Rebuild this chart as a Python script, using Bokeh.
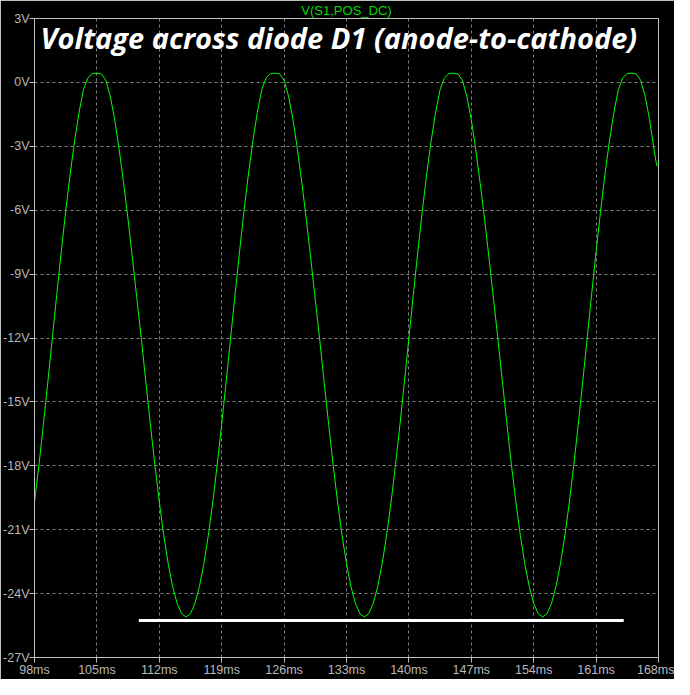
from bokeh.plotting import figure
from bokeh.models import FixedTicker, PrintfTickFormatter, Label, Range1d
from bokeh.embed import file_html
from bokeh.resources import INLINE

# ---- data ----
time_ms = [
    98, 98.5, 99, 99.5, 100, 100.5, 101, 101.5, 102, 102.5,
    103, 103.5, 104, 104.5, 105, 105.5, 106, 106.5, 107, 107.5,
    108, 108.5, 109, 109.5, 110, 110.5, 111, 111.5, 112, 112.5,
    113, 113.5, 114, 114.5, 115, 115.5, 116, 116.5, 117, 117.5,
    118, 118.5, 119, 119.5, 120, 120.5, 121, 121.5, 122, 122.5,
    123, 123.5, 124, 124.5, 125, 125.5, 126, 126.5, 127, 127.5,
    128, 128.5, 129, 129.5, 130, 130.5, 131, 131.5, 132, 132.5,
    133, 133.5, 134, 134.5, 135, 135.5, 136, 136.5, 137, 137.5,
    138, 138.5, 139, 139.5, 140, 140.5, 141, 141.5, 142, 142.5,
    143, 143.5, 144, 144.5, 145, 145.5, 146, 146.5, 147, 147.5,
    148, 148.5, 149, 149.5, 150, 150.5, 151, 151.5, 152, 152.5,
    153, 153.5, 154, 154.5, 155, 155.5, 156, 156.5, 157, 157.5,
    158, 158.5, 159, 159.5, 160, 160.5, 161, 161.5, 162, 162.5,
    163, 163.5, 164, 164.5, 165, 165.5, 166, 166.5, 167, 167.5,
    167.8, 168,
]
volts = [
    -19.70, -17.95, -16.05, -14.05, -12.00, -9.95, -7.95, -6.05, -4.30, -2.74,
    -1.40, -0.33, 0.22, 0.42, 0.43, 0.40, 0.10, -0.65, -1.75, -3.15,
    -4.75, -6.45, -8.30, -10.20, -12.10, -14.10, -16.05, -17.95, -19.70, -21.26,
    -22.60, -23.67, -24.46, -24.94, -25.10, -24.94, -24.46, -23.67, -22.60, -21.26,
    -19.70, -17.95, -16.05, -14.05, -12.00, -9.95, -7.95, -6.05, -4.30, -2.74,
    -1.40, -0.33, 0.22, 0.42, 0.43, 0.40, 0.10, -0.65, -1.75, -3.15,
    -4.75, -6.45, -8.30, -10.20, -12.10, -14.10, -16.05, -17.95, -19.70, -21.26,
    -22.60, -23.67, -24.46, -24.94, -25.10, -24.94, -24.46, -23.67, -22.60, -21.26,
    -19.70, -17.95, -16.05, -14.05, -12.00, -9.95, -7.95, -6.05, -4.30, -2.74,
    -1.40, -0.33, 0.22, 0.42, 0.43, 0.40, 0.10, -0.65, -1.75, -3.15,
    -4.75, -6.45, -8.30, -10.20, -12.10, -14.10, -16.05, -17.95, -19.70, -21.26,
    -22.60, -23.67, -24.46, -24.94, -25.10, -24.94, -24.46, -23.67, -22.60, -21.26,
    -19.70, -17.95, -16.05, -14.05, -12.00, -9.95, -7.95, -6.05, -4.30, -2.74,
    -1.40, -0.33, 0.22, 0.42, 0.43, 0.40, 0.10, -0.65, -1.75, -3.15,
    -3.90, -3.92,
]
x_ticks = [98, 105, 112, 119, 126, 133, 140, 147, 154, 161, 168]
y_ticks = [-27, -24, -21, -18, -15, -12, -9, -6, -3, 0, 3]
marker_x = [109.7, 164.1]
marker_y = [-25.26, -25.26]
trace_name = "V(S1,POS_DC)"
title_text = "Voltage across diode D1 (anode-to-cathode)"

AX_FONT = "Liberation Sans"

p = figure(width=674, height=679, output_backend="svg", toolbar_location=None,
           x_range=Range1d(98, 168), y_range=Range1d(-27, 3),
           background_fill_color="black", border_fill_color="black",
           min_border_left=34, min_border_right=16, min_border_top=16,
           min_border_bottom=21, title=trace_name)

p.title.align = "center"
p.title.text_color = "#00d800"
p.title.text_font = AX_FONT
p.title.text_font_size = "13px"
p.title.text_font_style = "normal"
p.title.standoff = 1

p.outline_line_color = "#c0c0c0"
p.outline_line_width = 1

for ax, ticks, fmt in ((p.xaxis[0], x_ticks, "%dms"), (p.yaxis[0], y_ticks, "%dV")):
    ax.ticker = FixedTicker(ticks=ticks)
    ax.formatter = PrintfTickFormatter(format=fmt)
    ax.axis_line_color = "#c0c0c0"
    ax.major_tick_line_color = "#c0c0c0"
    ax.major_tick_out = 5
    ax.major_tick_in = 0
    ax.minor_tick_out = 0
    ax.minor_tick_in = 0
    ax.major_label_text_color = "#b8b8b8"
    ax.major_label_text_font = AX_FONT
    ax.major_label_text_font_size = "12.5px"
    ax.major_label_standoff = 0

for g in (p.xgrid[0], p.ygrid[0]):
    g.grid_line_color = "#808080"
    g.grid_line_dash = "3 3"
    g.grid_line_width = 1

p.line(time_ms, volts, line_color="#00ff00", line_width=1)
p.line(marker_x, marker_y, line_color="white", line_width=3)

p.add_layout(Label(x=98.67, y=2.1, text=title_text, text_color="white",
                   text_font="Open Sans", text_font_style="bold italic",
                   text_font_size="29px", text_baseline="alphabetic"))

open("out.html", "w").write(file_html(p, INLINE))
